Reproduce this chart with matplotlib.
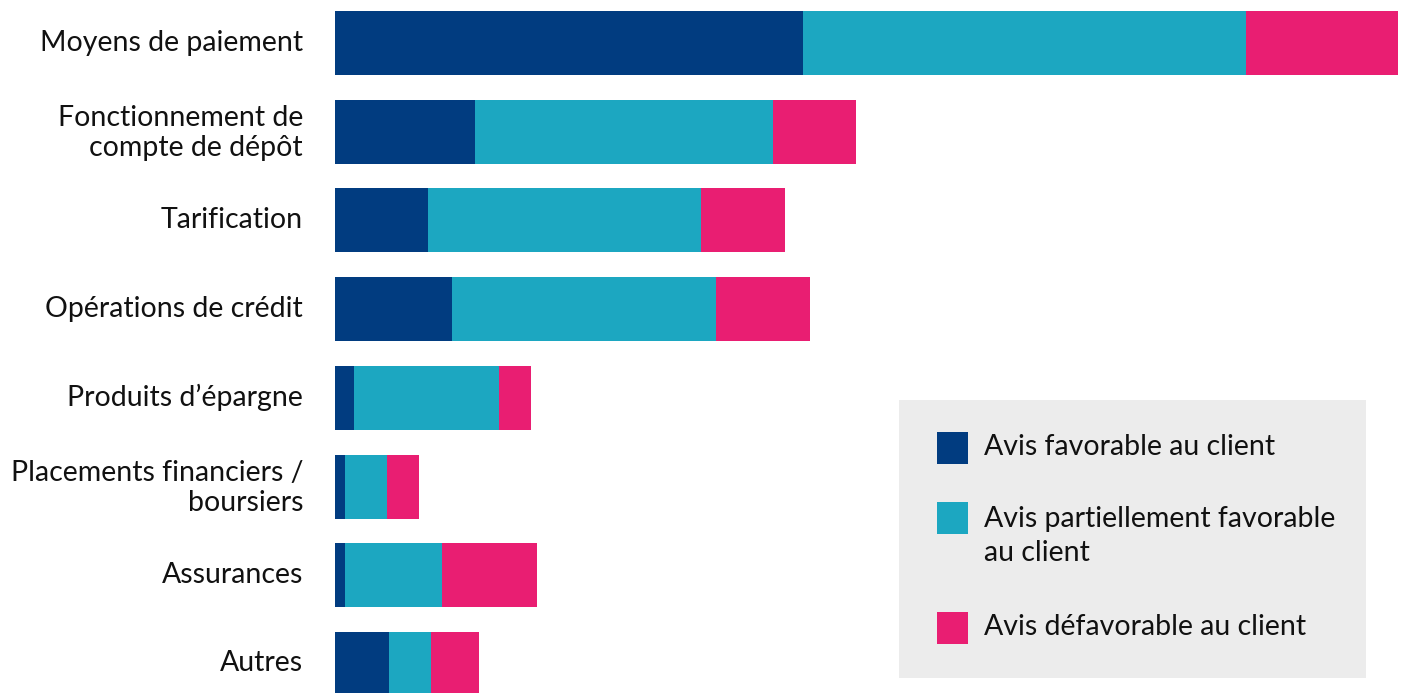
import numpy as np
import matplotlib
matplotlib.use("Agg")
import matplotlib.pyplot as plt
import matplotlib.transforms as mtransforms
from matplotlib.patches import Rectangle

plt.rcParams['font.family'] = ['Lato', 'DejaVu Sans']

# categories, top to bottom
categories = ['Moyens de paiement', 'Fonctionnement de\ncompte de dépôt', 'Tarification',
              'Opérations de crédit', 'Produits d\u2019épargne',
              'Placements financiers /\nboursiers', 'Assurances', 'Autres']

# widths (same arbitrary unit for all series)
favorable = [468, 140, 93, 117, 19, 10, 10, 54]
partiel = [443, 298, 273, 264, 145, 42, 97, 42]
defavorable = [152, 83, 84, 94, 32, 32, 95, 48]

series_names = ['Avis favorable au client', 'Avis partiellement favorable\nau client',
                'Avis défavorable au client']
colors = ['#013c80', '#1ca7c1', '#e91e72']

W, H = 1403, 693
fig = plt.figure(figsize=(W / 100, H / 100), dpi=100)
ax = fig.add_axes([335 / W, 0, 1 - 335 / W, 1])

y = np.arange(len(categories))
left = np.zeros(len(categories))
for vals, col in zip([favorable, partiel, defavorable], colors):
    ax.barh(y, vals, left=left, height=0.72, color=col, edgecolor='none')
    left += np.array(vals)

ax.set_xlim(0, W - 335)
step = 88.7
ax.set_ylim(7 + (H - 664) / step, -43 / step)

ax.set_yticks(y)
ax.set_yticklabels(categories, fontsize=20.5, color='#111111',
                   multialignment='right', linespacing=1.2)
ax.tick_params(axis='y', length=0, pad=23)
# nudge labels up a little
shift = mtransforms.ScaledTranslation(0, 3 / 100, fig.dpi_scale_trans)
for lab in ax.get_yticklabels():
    lab.set_transform(lab.get_transform() + shift)
ax.set_xticks([])
for s in ax.spines.values():
    s.set_visible(False)

# legend box drawn in figure pixels
def px(x, yy):
    return x / W, 1 - yy / H

fig.patches.append(Rectangle(px(899, 678), (1366 - 899) / W, (678 - 400) / H,
                             transform=fig.transFigure, facecolor='#ececec',
                             edgecolor='none', zorder=0))
sq_tops = [432, 502, 612]
txt_y = [447, 536, 627]
for top, ty, name, col in zip(sq_tops, txt_y, series_names, colors):
    fig.patches.append(Rectangle(px(937, top + 32), 31 / W, 32 / H,
                                 transform=fig.transFigure, facecolor=col,
                                 edgecolor='none', zorder=1))
    fig.text(984 / W, 1 - ty / H, name, fontsize=20.5, color='#111111',
             va='center', ha='left', linespacing=1.4)

fig.savefig('out.png', dpi=100)
